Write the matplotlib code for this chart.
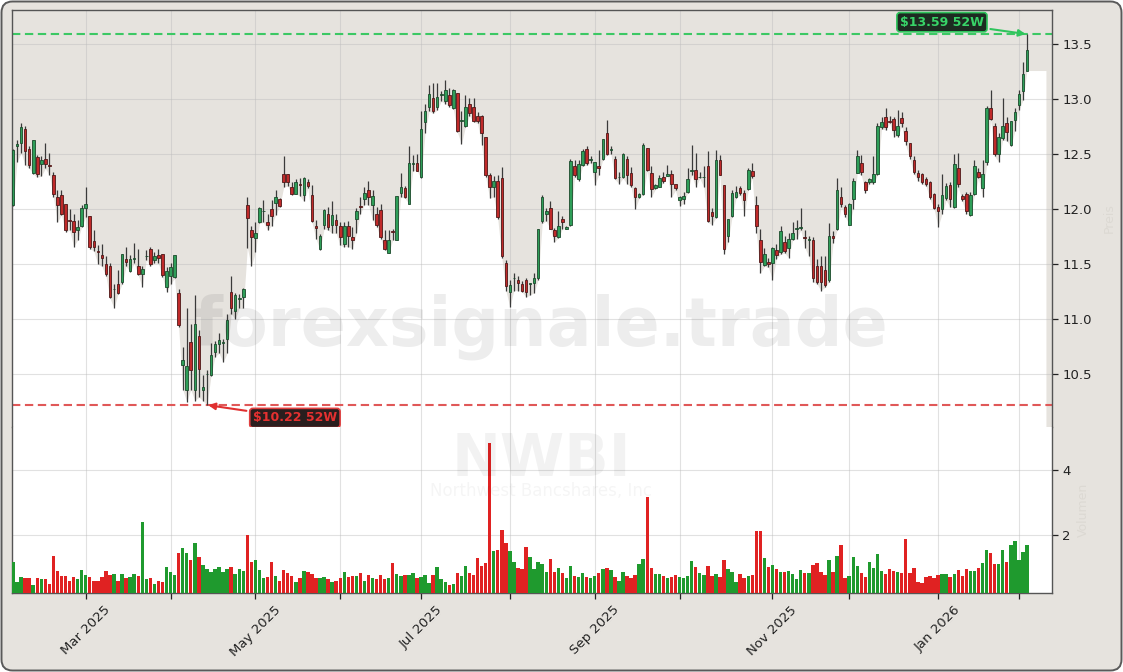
import numpy as np
import pandas as pd
import matplotlib
matplotlib.use("Agg")
import matplotlib.pyplot as plt
from matplotlib.patches import FancyBboxPatch
from matplotlib.transforms import IdentityTransform

ticker = "NWBI"
company = "Northwest Bancshares, Inc"
watermark = "forexsignale.trade"
start_date = "2025-02-04"
end_date = "2026-02-04"
holidays = ["2025-02-17", "2025-04-18", "2025-05-26", "2025-06-19", "2025-07-04",
            "2025-09-01", "2025-11-27", "2025-12-25", "2026-01-01", "2026-01-19"]

opens = [
    12.04, 12.57, 12.60, 12.73, 12.55, 12.33, 12.47, 12.41, 12.46, 12.40,
    12.31, 12.11, 12.13, 12.05, 11.90, 11.89, 11.81, 11.85, 12.01, 11.94,
    11.71, 11.62, 11.58, 11.50, 11.48, 11.27, 11.32, 11.34, 11.55, 11.44,
    11.55, 11.48, 11.41, 11.57, 11.64, 11.54, 11.58, 11.59, 11.29, 11.39,
    11.38, 11.24, 10.58, 10.36, 10.79, 10.36, 10.85, 10.36, 10.50, 10.49,
    10.70, 10.77, 10.78, 10.82, 11.25, 11.07, 11.18, 11.20, 12.04, 11.81,
    11.74, 11.88, 11.98, 11.88, 12.00, 12.06, 12.09, 12.32, 12.32, 12.20,
    12.14, 12.23, 12.13, 12.25, 12.13, 11.85, 11.64, 11.86, 11.96, 11.86,
    11.90, 11.85, 11.68, 11.85, 11.75, 11.91, 12.03, 12.09, 12.17, 12.04,
    11.96, 11.99, 11.72, 11.60, 11.80, 11.72, 12.15, 12.19, 12.05, 12.41,
    12.42, 12.29, 12.79, 12.93, 13.01, 12.93, 13.04, 12.98, 13.04, 12.92,
    13.06, 12.80, 12.76, 12.96, 12.93, 12.85, 12.85, 12.66, 12.31, 12.20,
    12.26, 12.28, 11.51, 11.25, 11.37, 11.36, 11.32, 11.36, 11.32, 11.33,
    11.37, 11.89, 11.96, 12.01, 11.81, 11.75, 11.91, 11.82, 11.86, 12.39,
    12.27, 12.40, 12.55, 12.45, 12.34, 12.39, 12.46, 12.69, 12.54, 12.46,
    12.29, 12.29, 12.46, 12.33, 12.19, 12.11, 12.14, 12.56, 12.33, 12.19,
    12.20, 12.29, 12.30, 12.32, 12.23, 12.08, 12.09, 12.16, 12.35, 12.36,
    12.29, 12.29, 12.39, 11.97, 11.93, 12.45, 12.22, 11.76, 11.94, 12.11,
    12.19, 12.15, 12.18, 12.35, 12.04, 11.72, 11.49, 11.52, 11.51, 11.63,
    11.61, 11.70, 11.65, 11.73, 11.82, 11.83, 11.75, 11.72, 11.72, 11.48,
    11.48, 11.45, 11.36, 11.76, 11.82, 12.11, 12.02, 11.86, 12.09, 12.33,
    12.42, 12.25, 12.25, 12.25, 12.32, 12.75, 12.84, 12.80, 12.82, 12.67,
    12.83, 12.71, 12.60, 12.45, 12.33, 12.32, 12.27, 12.25, 12.14, 12.02,
    12.00, 12.10, 12.22, 12.02, 12.37, 12.12, 12.14, 11.95, 12.14, 12.34,
    12.19, 12.43, 12.92, 12.76, 12.50, 12.65, 12.78, 12.58, 12.81, 12.95,
    13.07, 13.26,
]
highs = [
    12.55, 12.63, 12.78, 12.76, 12.57, 12.63, 12.49, 12.48, 12.60, 12.51,
    12.34, 12.17, 12.17, 12.05, 12.00, 11.96, 11.90, 12.04, 12.20, 11.94,
    11.81, 11.67, 11.68, 11.57, 11.51, 11.32, 11.45, 11.59, 11.66, 11.58,
    11.69, 11.64, 11.48, 11.63, 11.66, 11.61, 11.64, 11.59, 11.47, 11.51,
    11.58, 11.27, 10.75, 11.10, 10.96, 11.22, 10.90, 10.49, 10.54, 10.78,
    10.80, 10.87, 10.82, 11.05, 11.39, 11.24, 11.23, 11.28, 12.11, 11.85,
    11.88, 12.02, 12.08, 11.96, 12.08, 12.17, 12.10, 12.48, 12.32, 12.25,
    12.27, 12.28, 12.29, 12.27, 12.22, 11.90, 11.77, 12.00, 12.02, 12.07,
    11.96, 11.88, 11.88, 11.89, 11.84, 12.01, 12.11, 12.20, 12.26, 12.17,
    12.02, 12.05, 11.81, 11.81, 11.82, 12.12, 12.33, 12.21, 12.57, 12.49,
    12.50, 12.89, 12.96, 13.13, 13.15, 13.15, 13.07, 13.17, 13.10, 13.09,
    13.06, 12.89, 13.04, 13.01, 13.01, 12.88, 12.86, 12.66, 12.33, 12.30,
    12.31, 12.38, 11.54, 11.36, 11.42, 11.39, 11.35, 11.37, 11.33, 11.42,
    11.82, 12.13, 12.01, 12.07, 11.83, 11.98, 11.94, 11.85, 12.46, 12.45,
    12.45, 12.55, 12.57, 12.48, 12.43, 12.54, 12.64, 12.81, 12.57, 12.48,
    12.34, 12.51, 12.48, 12.38, 12.20, 12.15, 12.60, 12.56, 12.39, 12.23,
    12.31, 12.34, 12.40, 12.36, 12.23, 12.12, 12.16, 12.37, 12.58, 12.51,
    12.34, 12.39, 12.53, 12.01, 12.54, 12.49, 12.22, 11.91, 12.17, 12.21,
    12.21, 12.17, 12.37, 12.42, 12.12, 11.82, 11.65, 11.56, 11.66, 11.68,
    11.85, 11.76, 11.78, 11.88, 11.90, 12.01, 11.81, 11.76, 11.75, 11.55,
    11.57, 11.57, 11.87, 11.80, 12.28, 12.20, 12.04, 12.06, 12.28, 12.54,
    12.49, 12.26, 12.28, 12.48, 12.78, 12.84, 12.92, 12.85, 12.84, 12.90,
    12.88, 12.75, 12.60, 12.48, 12.36, 12.33, 12.29, 12.26, 12.15, 12.05,
    12.32, 12.24, 12.25, 12.50, 12.51, 12.14, 12.16, 12.16, 12.45, 12.37,
    12.45, 12.94, 13.08, 12.78, 12.69, 13.01, 12.84, 12.80, 12.92, 13.08,
    13.34, 13.59,
]
lows = [
    12.03, 12.43, 12.51, 12.40, 12.37, 12.32, 12.29, 12.30, 12.37, 12.31,
    12.11, 11.88, 11.95, 11.79, 11.81, 11.66, 11.72, 11.84, 11.93, 11.64,
    11.62, 11.50, 11.48, 11.39, 11.19, 11.10, 11.23, 11.32, 11.48, 11.43,
    11.51, 11.40, 11.29, 11.54, 11.48, 11.51, 11.51, 11.38, 11.25, 11.32,
    11.37, 10.93, 10.36, 10.25, 10.36, 10.26, 10.29, 10.26, 10.22, 10.48,
    10.66, 10.69, 10.61, 10.69, 11.05, 11.00, 11.10, 11.10, 11.65, 11.48,
    11.61, 11.87, 11.88, 11.81, 11.85, 11.95, 12.02, 12.20, 12.21, 12.13,
    12.14, 12.12, 12.07, 12.19, 11.88, 11.73, 11.63, 11.82, 11.81, 11.78,
    11.78, 11.67, 11.66, 11.66, 11.64, 11.78, 11.96, 12.04, 12.04, 11.90,
    11.84, 11.73, 11.63, 11.60, 11.72, 11.72, 12.11, 12.10, 12.05, 12.35,
    12.35, 12.28, 12.69, 12.89, 12.87, 12.90, 12.98, 12.96, 12.93, 12.91,
    12.70, 12.59, 12.75, 12.85, 12.79, 12.78, 12.58, 12.29, 12.10, 12.11,
    11.91, 11.56, 11.26, 11.11, 11.26, 11.26, 11.25, 11.20, 11.22, 11.24,
    11.36, 11.87, 11.89, 11.82, 11.70, 11.74, 11.82, 11.82, 11.85, 12.29,
    12.26, 12.39, 12.40, 12.42, 12.22, 12.31, 12.45, 12.49, 12.50, 12.27,
    12.23, 12.28, 12.23, 12.20, 12.00, 12.10, 12.13, 12.35, 12.11, 12.18,
    12.20, 12.24, 12.30, 12.11, 12.17, 12.03, 12.05, 12.15, 12.31, 12.20,
    12.28, 12.20, 11.88, 11.86, 11.92, 12.31, 11.59, 11.70, 11.93, 12.10,
    12.13, 11.94, 12.17, 12.28, 11.78, 11.42, 11.48, 11.47, 11.36, 11.55,
    11.59, 11.60, 11.56, 11.72, 11.73, 11.81, 11.65, 11.57, 11.34, 11.32,
    11.26, 11.29, 11.34, 11.69, 11.81, 12.02, 11.93, 11.86, 12.00, 12.33,
    12.31, 12.15, 12.23, 12.23, 12.31, 12.73, 12.72, 12.78, 12.66, 12.66,
    12.75, 12.58, 12.46, 12.32, 12.26, 12.23, 12.21, 12.09, 12.00, 11.84,
    11.96, 12.08, 12.02, 12.01, 12.20, 12.07, 11.96, 11.94, 12.13, 12.28,
    12.11, 12.40, 12.81, 12.48, 12.43, 12.63, 12.62, 12.57, 12.71, 12.90,
    12.99, 13.26,
]
closes = [
    12.54, 12.59, 12.75, 12.53, 12.40, 12.63, 12.32, 12.45, 12.41, 12.39,
    12.14, 12.04, 11.96, 11.81, 11.89, 11.79, 11.84, 12.01, 12.05, 11.66,
    11.66, 11.61, 11.56, 11.41, 11.20, 11.27, 11.24, 11.59, 11.52, 11.55,
    11.56, 11.41, 11.46, 11.57, 11.50, 11.57, 11.56, 11.40, 11.44, 11.47,
    11.58, 10.95, 10.63, 10.57, 10.54, 10.96, 10.55, 10.38, 10.50, 10.67,
    10.77, 10.81, 10.79, 10.99, 11.10, 11.22, 11.19, 11.27, 11.92, 11.75,
    11.78, 12.01, 11.98, 11.86, 11.94, 12.11, 12.03, 12.25, 12.25, 12.14,
    12.25, 12.22, 12.28, 12.21, 11.89, 11.83, 11.76, 11.99, 11.84, 11.95,
    11.86, 11.75, 11.85, 11.76, 11.72, 11.98, 12.02, 12.15, 12.11, 12.12,
    11.86, 11.75, 11.64, 11.72, 11.79, 12.12, 12.20, 12.11, 12.42, 12.41,
    12.35, 12.73, 12.89, 13.05, 12.89, 13.02, 13.04, 13.08, 12.95, 13.08,
    12.71, 12.80, 12.93, 12.87, 12.80, 12.80, 12.69, 12.31, 12.20, 12.26,
    11.93, 11.57, 11.30, 11.31, 11.37, 11.33, 11.26, 11.25, 11.32, 11.37,
    11.82, 12.11, 11.98, 11.82, 11.76, 11.85, 11.88, 11.84, 12.44, 12.31,
    12.41, 12.53, 12.42, 12.45, 12.43, 12.37, 12.64, 12.50, 12.54, 12.28,
    12.29, 12.50, 12.31, 12.22, 12.11, 12.14, 12.58, 12.36, 12.18, 12.22,
    12.28, 12.26, 12.32, 12.23, 12.19, 12.11, 12.12, 12.27, 12.35, 12.27,
    12.29, 12.29, 11.89, 11.94, 12.45, 12.31, 11.64, 11.91, 12.15, 12.16,
    12.15, 12.08, 12.36, 12.30, 11.85, 11.52, 11.59, 11.50, 11.65, 11.58,
    11.80, 11.62, 11.73, 11.78, 11.82, 11.84, 11.74, 11.72, 11.37, 11.34,
    11.34, 11.31, 11.76, 11.74, 12.17, 12.05, 11.96, 12.05, 12.26, 12.48,
    12.34, 12.17, 12.27, 12.32, 12.76, 12.79, 12.75, 12.79, 12.72, 12.76,
    12.78, 12.62, 12.48, 12.34, 12.29, 12.25, 12.23, 12.11, 12.01, 11.98,
    12.13, 12.21, 12.09, 12.41, 12.23, 12.09, 11.98, 12.13, 12.39, 12.29,
    12.32, 12.92, 12.82, 12.50, 12.66, 12.76, 12.70, 12.80, 12.88, 13.05,
    13.23, 13.45,
]
volumes = [  # millions of shares
    1.15, 0.55, 0.71, 0.65, 0.67, 0.45, 0.65, 0.64, 0.62, 0.49,
    1.35, 0.89, 0.74, 0.74, 0.58, 0.71, 0.62, 0.92, 0.77, 0.71,
    0.58, 0.58, 0.71, 0.89, 0.77, 0.80, 0.58, 0.80, 0.65, 0.71,
    0.80, 0.74, 2.40, 0.62, 0.65, 0.49, 0.58, 0.55, 1.02, 0.86,
    0.77, 1.45, 1.60, 1.45, 1.23, 1.75, 1.32, 1.08, 0.95, 0.86,
    0.95, 1.02, 0.86, 0.95, 1.02, 0.80, 0.95, 0.89, 2.00, 1.15,
    1.23, 0.92, 0.65, 0.71, 1.17, 0.74, 0.58, 0.92, 0.83, 0.74,
    0.55, 0.65, 0.89, 0.86, 0.80, 0.65, 0.65, 0.71, 0.62, 0.55,
    0.58, 0.68, 0.86, 0.71, 0.72, 0.72, 0.82, 0.58, 0.77, 0.67,
    0.64, 0.77, 0.62, 0.65, 1.13, 0.79, 0.72, 0.77, 0.77, 0.82,
    0.65, 0.69, 0.77, 0.51, 0.77, 1.02, 0.64, 0.54, 0.46, 0.49,
    0.82, 0.72, 1.05, 0.82, 0.77, 1.29, 1.05, 1.14, 4.86, 1.51,
    1.54, 2.15, 1.74, 1.51, 1.17, 0.98, 0.95, 1.63, 1.32, 0.95,
    1.17, 1.11, 0.86, 1.26, 0.86, 0.98, 0.83, 0.65, 1.05, 0.74,
    0.71, 0.83, 0.71, 0.65, 0.74, 0.83, 0.95, 0.98, 0.92, 0.71,
    0.58, 0.86, 0.74, 0.68, 0.77, 1.11, 1.26, 3.17, 0.98, 0.80,
    0.80, 0.74, 0.68, 0.71, 0.77, 0.71, 0.68, 0.74, 1.20, 1.02,
    0.83, 0.77, 1.05, 0.74, 0.80, 0.71, 1.23, 0.95, 0.86, 0.55,
    0.80, 0.68, 0.74, 0.77, 2.12, 2.12, 1.29, 1.02, 1.08, 0.95,
    0.86, 0.86, 0.89, 0.80, 0.62, 0.92, 0.83, 0.83, 1.08, 1.14,
    0.86, 0.77, 1.23, 0.86, 1.35, 1.69, 0.65, 0.74, 1.32, 1.05,
    0.83, 0.71, 1.17, 0.98, 1.42, 0.89, 0.80, 0.95, 0.89, 0.86,
    0.83, 1.88, 0.83, 0.98, 0.55, 0.52, 0.71, 0.74, 0.68, 0.77,
    0.80, 0.80, 0.71, 0.80, 0.92, 0.74, 0.95, 0.89, 0.89, 0.98,
    1.14, 1.54, 1.45, 1.11, 1.11, 1.54, 1.17, 1.69, 1.82, 1.23,
    1.48, 1.69,
]

# ---------------------------------------------------------------- setup
BG = "#e6e3de"
UP_BODY, DN_BODY = "#2e9e58", "#c02a2a"
UP_EDGE, DN_EDGE = "#1c4a2c", "#4e1818"
UP_VOL, DN_VOL = "#1f9a2e", "#e02222"
WICK = "#3a3a3a"
HI_COL, LO_COL = "#3cc864", "#e05858"

o = np.array(opens); h = np.array(highs); l = np.array(lows); c = np.array(closes)
v = np.array(volumes)
n = len(c)
dates = pd.bdate_range(start_date, end_date)
dates = dates[~dates.isin(pd.to_datetime(holidays))][:n]
x = np.arange(n)
up = c >= o

W, H = 1123, 672
fig = plt.figure(figsize=(W / 100, H / 100), dpi=100)
fig.patch.set_facecolor("white")
frame = FancyBboxPatch((1.5, 1.5), W - 3, H - 3,
                       boxstyle="round,pad=0,rounding_size=11",
                       transform=IdentityTransform(), fc=BG, ec="#5a5a5a",
                       lw=1.4, zorder=-10)
fig.patches.append(frame)

L, R = 12, 1052
ax = fig.add_axes([L / W, 1 - 427 / H, (R - L) / W, (427 - 10) / H])
axv = fig.add_axes([L / W, 1 - 593 / H, (R - L) / W, (593 - 427) / H], sharex=ax)

xlim = (-0.25, n - 1 + 6.2)
ylim = (l.min() - 0.20, h.max() + 0.22)

# ---------------------------------------------------------------- price panel
ax.set_facecolor(BG)
ax.set_xlim(*xlim)
ax.set_ylim(*ylim)
fill_x = np.r_[xlim[0], x, x[-1] + 4.7]
fill_y = np.r_[l[0], l, l[-1]]
ax.fill_between(fill_x, fill_y, ylim[0], color="white", lw=0, zorder=0.2)

ax.vlines(x, l, h, color=WICK, lw=0.9, zorder=3)
body_bot = np.minimum(o, c)
body_h = np.maximum(np.abs(c - o), 0.006)
ax.bar(x, body_h, bottom=body_bot, width=0.64,
       color=np.where(up, UP_BODY, DN_BODY),
       edgecolor=np.where(up, UP_EDGE, DN_EDGE), linewidth=0.6, zorder=4)

hi_i, lo_i = int(np.argmax(h)), int(np.argmin(l))
hi_v, lo_v = h[hi_i], l[lo_i]
ax.axhline(hi_v, color=HI_COL, ls=(0, (4, 2.2)), lw=1.5, zorder=2.5)
ax.axhline(lo_v, color=LO_COL, ls=(0, (4, 2.2)), lw=1.5, zorder=2.5)
ax.annotate(f"${hi_v:.2f} 52W", xy=(hi_i, hi_v), xytext=(-85, 12),
            textcoords="offset pixels", ha="center", va="center",
            fontsize=9, fontweight="bold", color="#38d468",
            bbox=dict(boxstyle="round,pad=0.25", fc="#1d2b21", ec="#2fc45c", lw=1.2),
            arrowprops=dict(arrowstyle="-|>", color="#2fc45c", lw=1.5,
                            mutation_scale=10, shrinkA=2, shrinkB=1),
            zorder=6)
ax.annotate(f"${lo_v:.2f} 52W", xy=(lo_i, lo_v), xytext=(88, -13),
            textcoords="offset pixels", ha="center", va="center",
            fontsize=9, fontweight="bold", color="#e53030",
            bbox=dict(boxstyle="round,pad=0.25", fc="#2a1e1e", ec="#e04040", lw=1.2),
            arrowprops=dict(arrowstyle="-|>", color="#e03030", lw=1.5,
                            mutation_scale=10, shrinkA=2, shrinkB=1),
            zorder=6)

# ---------------------------------------------------------------- volume panel
axv.set_facecolor("white")
axv.bar(x, v, width=0.85, color=np.where(up, UP_VOL, DN_VOL), lw=0, zorder=3)
axv.set_ylim(0.2, v.max() * 1.1)
axv.set_yticks([2, 4])

# ---------------------------------------------------------------- axes style
month_idx = [i for i in range(1, n) if dates[i].month != dates[i - 1].month]
month_lab = [dates[i].strftime("%b %Y") if dates[i].month % 2 == 1 else "" for i in month_idx]

for a in (ax, axv):
    a.set_axisbelow(True)
    a.grid(True, color="#bdbdbd", alpha=0.45, lw=0.8)
    a.yaxis.tick_right()
    a.tick_params(axis="y", right=True, left=False, labelsize=9.5,
                  colors="#222222", length=4, width=0.9)
    for s in a.spines.values():
        s.set_color("#555555")
        s.set_linewidth(1.0)
    a.set_xticks(month_idx)

ax.set_yticks(np.arange(10.5, 13.51, 0.5))
ax.yaxis.set_major_formatter(matplotlib.ticker.FormatStrFormatter("%.1f"))
ax.tick_params(axis="x", bottom=False, labelbottom=False)
ax.spines["bottom"].set_visible(False)
axv.spines["top"].set_visible(False)
axv.set_xticklabels(month_lab, rotation=45, ha="center", fontsize=9.5, color="#222222")
axv.tick_params(axis="x", length=4, width=0.9, colors="#222222")

ax.yaxis.set_label_position("right")
ax.set_ylabel("Preis", color="#dcd9d3", fontsize=9, rotation=90, labelpad=8)
axv.yaxis.set_label_position("right")
axv.set_ylabel("Volumen", color="#dcd9d3", fontsize=9, rotation=90, labelpad=4)

# ---------------------------------------------------------------- watermarks
fig.text(541 / W, 1 - 327 / H, watermark, fontsize=48, fontweight="bold",
         color="black", alpha=0.07, ha="center", va="center", zorder=5)
fig.text(541 / W, 1 - 460 / H, ticker, fontsize=42, fontweight="bold",
         color="black", alpha=0.05, ha="center", va="center", zorder=5)
fig.text(541 / W, 1 - 491 / H, company, fontsize=12,
         color="black", alpha=0.04, ha="center", va="center", zorder=5)

fig.savefig("out.png", dpi=100, facecolor=fig.get_facecolor())
